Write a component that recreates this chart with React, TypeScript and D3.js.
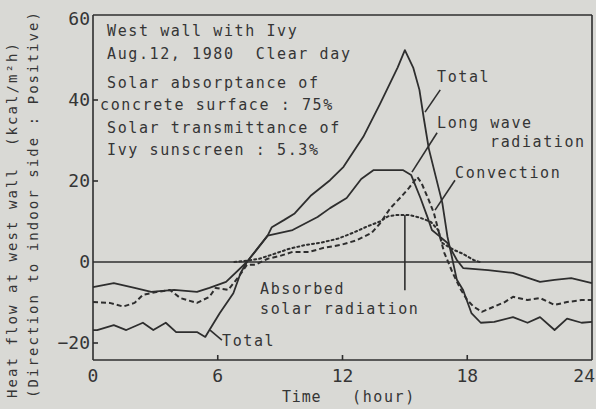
import * as d3 from 'd3'

// hour / heat flow (kcal/m2h)
const totalHours = [0, 0.2, 1, 1.6, 2.4, 2.9, 3.5, 4, 5, 5.4, 5.6, 6.1, 6.75, 7.1, 7.4, 8.4, 8.6, 9.2, 9.7, 10.5, 11.4, 12.05, 13, 13.8, 14.65, 15, 15.4, 15.7, 15.9, 16.15, 16.8, 17.05, 17.5, 17.8, 18.2, 18.65, 19.3, 20.2, 20.9, 21.5, 22.2, 22.8, 23.5, 24]
const totalValues = [-16.8, -16.8, -15.6, -16.8, -15, -16.8, -15, -17.3, -17.3, -18.5, -16.8, -12.6, -7.7, -2.7, 0, 6.5, 8.6, 10.4, 12, 16.5, 20.2, 23.5, 30.9, 39, 48, 52.3, 48, 42.5, 35.8, 28, 14.6, 6.2, -4.4, -6.9, -12.6, -15, -14.8, -13.6, -15, -13.6, -16.8, -14, -15, -14.8]

const longWaveHours = [0, 1, 2, 2.8, 3.9, 5, 5.6, 6.4, 7.4, 8.4, 9.6, 10.8, 11.4, 12.2, 12.9, 13.5, 14.9, 15.3, 15.75, 16.1, 16.3, 16.7, 17.05, 17.5, 17.8, 19, 20.2, 21.5, 22.2, 23, 24]
const longWaveValues = [-6.2, -5.2, -6.4, -7.4, -6.9, -7.4, -6.4, -4.9, 0, 6.5, 7.9, 11.1, 13.3, 15.8, 20.5, 22.7, 22.7, 21.5, 15.8, 10.9, 7.9, 6.2, 4.7, 0.5, -1.5, -2, -2.7, -4.9, -4.4, -4, -5.2]

const convectionHours = [0, 0.8, 1.45, 2, 2.4, 3.05, 3.7, 4.2, 5, 5.6, 5.9, 6.5, 7, 7.4, 7.8, 8.4, 9, 9.6, 10.4, 11.1, 11.9, 12.7, 13.4, 13.8, 14.3, 14.8, 15.2, 15.6, 15.8, 16.15, 16.4, 16.75, 16.9, 17.1, 17.3, 17.7, 18, 18.3, 18.7, 19.3, 19.8, 20.2, 20.9, 21.5, 22.2, 22.8, 23.5, 24]
const convectionValues = [-9.9, -10.1, -11, -10.1, -8.1, -7.4, -6.9, -8.9, -10.1, -8.6, -6.4, -6.9, -3.7, -0.7, -0.7, 0.8, 1.5, 2.5, 2.5, 3.5, 4.2, 5.4, 7.2, 9.5, 13.3, 16, 18.3, 21, 19.5, 15.3, 12, 5, 2.2, -0.2, -2.7, -6.9, -9.4, -11, -12.3, -11, -9.9, -8.6, -9.4, -8.9, -10.6, -9.9, -9.4, -9.4]

const solarHours = [6.8, 7.4, 8, 8.6, 9.4, 10.2, 11, 11.8, 12.5, 13.2, 13.8, 14.2, 14.6, 15.2, 15.7, 16.25, 16.6, 16.8, 17.35, 17.8, 18.3, 18.6]
const solarValues = [0, 0.3, 0.8, 1.8, 3.2, 4.2, 4.8, 5.8, 7.2, 8.8, 10, 11.3, 11.6, 11.6, 11, 9.9, 7.9, 4.7, 3, 2, 0.5, 0]

const xTicks = [0, 6, 12, 18, 24]
const yTicks = [60, 40, 20, 0, -20]

const noteLines = [
  'West wall with Ivy',
  'Aug.12, 1980 \u00a0Clear day',
  'Solar absorptance of',
  'concrete surface : 75%',
  'Solar transmittance of',
  'Ivy sunscreen : 5.3%',
]

const zip = (h: number[], v: number[]) => h.map((d, i) => [d, v[i]] as [number, number])

export default function App() {
  const width = 596
  const height = 409
  const ink = '#2e2e2e'
  const textInk = '#353535'
  const mono = "'DejaVu Sans Mono', 'Liberation Mono', monospace"

  const x = d3.scaleLinear().domain([0, 24]).range([93, 592])
  const y = d3.scaleLinear().domain([-20, 60]).range([343, 19])
  const yTop = y(61)
  const yBottom = y(-24.2)

  const line = d3
    .line<[number, number]>()
    .x((d) => x(d[0]))
    .y((d) => y(d[1]))

  const series = [
    { key: 'total', pts: zip(totalHours, totalValues), dash: undefined, w: 1.8 },
    { key: 'long', pts: zip(longWaveHours, longWaveValues), dash: undefined, w: 1.8 },
    { key: 'conv', pts: zip(convectionHours, convectionValues), dash: '5 3', w: 2 },
    { key: 'solar', pts: zip(solarHours, solarValues), dash: '2 3', w: 2 },
  ]

  // leader lines, in data units
  const pointers: [number, number, number, number][] = [
    [16.7, 42.5, 15.97, 37],
    [16.55, 31.9, 15.34, 22.2],
    [17.41, 20.2, 16.45, 12.8],
    [15.0, 11.6, 15.0, -7],
    [5.63, -16.8, 6.2, -19.3],
  ]

  const noteBase = [36, 59, 88, 110, 133, 155]

  return (
    <svg
      width={width}
      height={height}
      style={{ position: 'absolute', left: 0, top: 0, display: 'block' }}
    >
      <rect width={width} height={height} fill="#d9d9d5" />

      {/* frame */}
      <g stroke={ink} strokeWidth={1.6} fill="none">
        <line x1={x(0)} x2={x(24)} y1={yTop} y2={yTop} />
        <line x1={x(0)} x2={x(24)} y1={yBottom} y2={yBottom} />
        <line x1={x(0)} x2={x(0)} y1={yTop} y2={yBottom} />
        <line x1={x(24)} x2={x(24)} y1={yTop} y2={yBottom} />
        <line x1={x(0)} x2={x(24)} y1={y(0)} y2={y(0)} />
        {[40, 20, -20].map((t) => (
          <line key={t} x1={x(0)} x2={x(0) + 5} y1={y(t)} y2={y(t)} />
        ))}
        {[6, 12, 18].map((t) => (
          <line key={t} x1={x(t)} x2={x(t)} y1={yBottom} y2={yBottom - 5} />
        ))}
      </g>

      {/* tick labels */}
      <g fontFamily={mono} fontSize={18} fill={textInk}>
        {yTicks.map((t) => (
          <text key={t} x={x(0) - 3} y={y(t)} dy="0.36em" textAnchor="end">
            {t < 0 ? `\u2212${-t}` : t}
          </text>
        ))}
        {xTicks.map((t) => (
          <text
            key={t}
            x={t === 24 ? width - 1 : x(t)}
            y={382}
            textAnchor={t === 24 ? 'end' : 'middle'}
          >
            {t}
          </text>
        ))}
      </g>

      {/* series */}
      <g fill="none" stroke={ink} strokeLinejoin="round">
        {series.map((s) => (
          <path
            key={s.key}
            d={line(s.pts) ?? ''}
            strokeWidth={s.w}
            strokeDasharray={s.dash}
            strokeLinecap={s.key === 'solar' ? 'round' : 'butt'}
          />
        ))}
        {pointers.map((p, i) => (
          <line key={i} x1={x(p[0])} y1={y(p[1])} x2={x(p[2])} y2={y(p[3])} strokeWidth={1.6} />
        ))}
      </g>

      {/* annotations */}
      <g fontFamily={mono} fontSize={15} letterSpacing={1.6} fill={textInk}>
        {noteLines.map((t, i) => (
          <text key={i} x={i === 3 ? 100 : 107} y={noteBase[i]}>
            {t}
          </text>
        ))}
        <text x={437} y={82}>Total</text>
        <text x={437} y={128}>Long wave</text>
        <text x={490} y={147}>radiation</text>
        <text x={455} y={178}>Convection</text>
        <text x={260} y={294}>Absorbed</text>
        <text x={260} y={314}>solar radiation</text>
        <text x={222} y={346}>Total</text>
        <text x={282} y={402} letterSpacing={0.8}>Time</text>
        <text x={352} y={402}>(hour)</text>
      </g>

      {/* y axis title */}
      <g fontFamily={mono} fontSize={14} fill={textInk}>
        <text
          transform="translate(17,398) rotate(-90)"
          textLength={355}
          lengthAdjust="spacing"
        >
          {'Heat flow at west wall \u00a0(kcal/m²h)'}
        </text>
        <text
          transform="translate(38,398) rotate(-90)"
          textLength={386}
          lengthAdjust="spacing"
        >
          (Direction to indoor side : Positive)
        </text>
      </g>
    </svg>
  )
}
